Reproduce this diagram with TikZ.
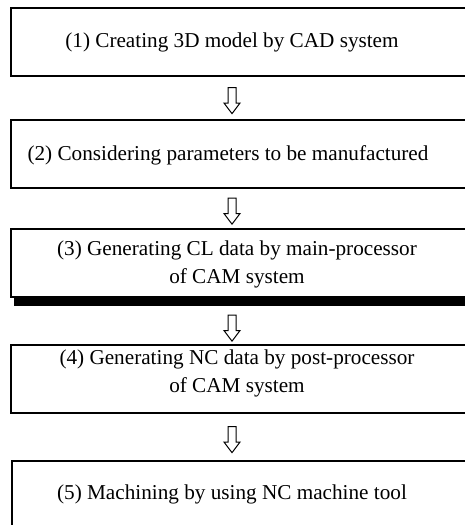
\documentclass[tikz,border=0pt]{standalone}
\usepackage{fontspec}
\setmainfont{Liberation Serif}
\usetikzlibrary{positioning,calc,shapes.arrows}
\tikzset{
  steptext/.style={align=center, font=\fontsize{10.6}{14}\selectfont, inner sep=0pt},
  boxline/.style={line width=0.75pt},
  flowarrow/.style={draw, line width=0.5pt, single arrow, shape border rotate=270,
    minimum height=13pt, minimum width=7.5pt, single arrow head extend=2pt,
    single arrow tip angle=74, inner sep=1.75pt}
}
\begin{document}
\begin{tikzpicture}[x=0.5pt,y=-0.5pt]
  \useasboundingbox (0,0) rectangle (465,525);
  % step boxes, open on the right side
  \foreach \t/\b [count=\i] in {8/76,120/188,229/297,345/413}{
    \draw[boxline] (465,\t) -| (11,\b) -- (465,\b);
    \coordinate (top\i) at (232,\t);
    \coordinate (bot\i) at (232,\b);
  }
  \draw[boxline] (465,461) -| (12,525);
  \coordinate (top5) at (232,461);
  \fill (14,297) rectangle (465,306);
  \coordinate (bot3) at (232,306);

  \node[steptext] (s1) at (232,42) {(1) Creating 3D model by CAD system};
  \node[steptext] (s2) at (228,155) {(2) Considering parameters to be manufactured};
  \node[steptext] (s3) at (237,264) {(3) Generating CL data by main-processor\\ of CAM system};
  \node[steptext] (s4) at (237,373) {(4) Generating NC data by post-processor\\ of CAM system};
  \node[steptext] (s5) at (232,494) {(5) Machining by using NC machine tool};

  % hollow arrows between the steps
  \foreach \i [evaluate=\i as \j using int(\i+1)] in {1,...,4}
    \node[flowarrow] (a\i) at ($(bot\i)!0.5!(top\j)$) {};
\end{tikzpicture}
\end{document}
